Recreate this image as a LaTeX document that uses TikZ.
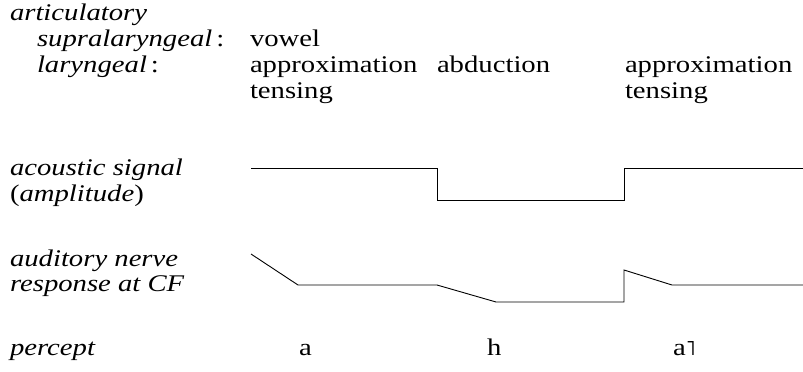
\documentclass[tikz,border=0pt]{standalone}
\usepackage{fontspec}
\setmainfont[FakeStretch=1.2]{Liberation Serif}
\newfontfamily\tonefont{DejaVu Sans}
\begin{document}
\begin{tikzpicture}[x=1bp,y=1bp,
  lbl/.style={anchor=base west,inner sep=0pt,outer sep=0pt,font=\fontsize{24}{26}\selectfont},
  sig/.style={line width=0.9bp,black,line join=miter}]
\useasboundingbox (0,0) rectangle (803,371);
% labels (y = 371 - baseline)
\node[lbl] (art) at (10,351) {\textit{articulatory}};
\node[lbl] (sup) at (37,325) {\textit{supralaryngeal}\,:};
\node[lbl] (vow) at (250,325) {vowel};
\node[lbl] (lar) at (37,299) {\textit{laryngeal}\,:};
\node[lbl] (ap1) at (250,299) {approximation};
\node[lbl] (abd) at (437,299) {abduction};
\node[lbl] (ap2) at (625,299) {approximation};
\node[lbl] (te1) at (250,273) {tensing};
\node[lbl] (te2) at (625,273) {tensing};
\node[lbl] (ac1) at (10,196) {\textit{acoustic signal}};
\node[lbl] (ac2) at (10,170) {(\textit{amplitude})};
\node[lbl] (au1) at (10,105) {\textit{auditory nerve}};
\node[lbl] (au2) at (10,80) {\textit{response at CF}};
\node[lbl] (per) at (10,16) {\textit{percept}};
\node[lbl] (pa) at (299,16) {a};
\node[lbl] (ph) at (487,16) {h};
\node[lbl] (pa2) at (673,16) {a{\tonefont\fontsize{21}{24}\selectfont ˥}};
% acoustic signal
\coordinate (s0) at (251,203);
\coordinate (s1) at (437,203);
\coordinate (s2) at (437,171);
\coordinate (s3) at (624,171);
\coordinate (s4) at (624,203);
\coordinate (s5) at (803,203);
\draw[sig] (s0) -- (s1) -- (s2) -- (s3) -- (s4) -- (s5);
% auditory nerve response
\coordinate (n0) at (251,117);
\coordinate (n1) at (298,86);
\coordinate (n2) at (437,86);
\coordinate (n3) at (496,69);
\coordinate (n4) at (624,69);
\coordinate (n5) at (624,101);
\coordinate (n6) at (672,86);
\coordinate (n7) at (803,86);
\draw[sig] (n0) -- (n1) -- (n2) -- (n3) -- (n4) -- (n5) -- (n6) -- (n7);
\end{tikzpicture}
\end{document}
